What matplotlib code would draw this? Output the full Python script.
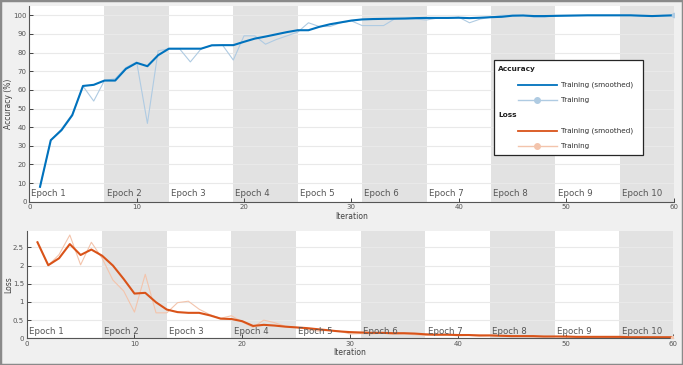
import numpy as np
import matplotlib
matplotlib.use("Agg")
import matplotlib.pyplot as plt
import matplotlib.transforms as mtransforms
from matplotlib.patches import Rectangle
from matplotlib.lines import Line2D
from matplotlib.ticker import FuncFormatter

# training progress
iterations = list(range(1, 61))

acc_smoothed = [
    8, 33, 38.4, 46.4, 62.1, 62.7, 65, 65, 71.3, 74.5,
    72.7, 78.6, 82.1, 82.1, 82.1, 82.1, 83.9, 84, 84, 85.8,
    87.5, 88.6, 89.8, 91, 92, 92, 93.8, 95.2, 96.2, 97.2,
    97.8, 98, 98.1, 98.2, 98.3, 98.5, 98.6, 98.6, 98.6, 98.7,
    98.5, 98.7, 99, 99.2, 99.8, 99.9, 99.6, 99.6, 99.7, 99.8,
    99.9, 100, 100, 100, 100, 100, 99.8, 99.6, 99.8, 100,
]
acc_raw = [
    8, 33, 39, 47, 62, 54, 65, 66, 72, 75,
    42, 81, 82, 82, 75, 82, 84, 84, 76, 89,
    89, 84.5, 87, 89, 91, 96, 94, 94, 96, 97,
    94.5, 94.5, 94.5, 98, 98, 98, 97.5, 98.5, 98.5, 99,
    96, 98, 99, 100, 100, 100, 99, 99, 100, 100,
    100, 100, 100, 100, 100, 100, 99.5, 99.5, 100, 100,
]
loss_smoothed = [
    2.64, 2.01, 2.2, 2.59, 2.29, 2.44, 2.27, 2.0, 1.63, 1.23,
    1.25, 0.99, 0.79, 0.72, 0.70, 0.70, 0.63, 0.54, 0.53, 0.47,
    0.34, 0.37, 0.35, 0.32, 0.30, 0.28, 0.25, 0.22, 0.19, 0.17,
    0.16, 0.15, 0.15, 0.14, 0.14, 0.13, 0.11, 0.10, 0.10, 0.09,
    0.09, 0.08, 0.08, 0.07, 0.06, 0.06, 0.06, 0.05, 0.05, 0.05,
    0.04, 0.04, 0.04, 0.04, 0.04, 0.03, 0.03, 0.03, 0.03, 0.03,
]
loss_raw = [
    2.64, 2.0, 2.3, 2.84, 2.02, 2.64, 2.2, 1.6, 1.3, 0.72,
    1.76, 0.7, 0.7, 0.98, 1.02, 0.8, 0.65, 0.55, 0.62, 0.45,
    0.3, 0.5, 0.43, 0.33, 0.3, 0.25, 0.2, 0.22, 0.2, 0.12,
    0.13, 0.12, 0.14, 0.11, 0.12, 0.1, 0.08, 0.08, 0.09, 0.07,
    0.08, 0.06, 0.07, 0.05, 0.05, 0.05, 0.04, 0.04, 0.05, 0.03,
    0.03, 0.03, 0.04, 0.03, 0.02, 0.02, 0.03, 0.02, 0.02, 0.02,
]

n_epochs = 10
iters_per_epoch = 6
epoch_labels = [f"Epoch {k}" for k in range(1, n_epochs + 1)]

BLUE = "#0072BD"
BLUE_LIGHT = "#AFCBE2"
ORANGE = "#D95319"
ORANGE_LIGHT = "#F3C4AC"
SHADE = "#E2E2E2"
GRID = "#E9E9E9"
TEXT = "#555555"
FIG_BG = "#F0F0F0"


def fmt_g(value, _pos):
    return f"{value:g}"


def style_axes(ax, ylim, yticks):
    ax.set_xlim(0, 60)
    ax.set_ylim(*ylim)
    ax.set_xticks(range(0, 61, 10))
    ax.set_yticks(yticks)
    ax.yaxis.set_major_formatter(FuncFormatter(fmt_g))
    ax.tick_params(direction="in", length=3, width=0.7, colors="#404040",
                   labelsize=5, labelcolor="#555555", pad=2)
    for side in ("top", "right"):
        ax.spines[side].set_visible(False)
    for side in ("left", "bottom"):
        ax.spines[side].set_color("#555555")
        ax.spines[side].set_linewidth(0.8)
    ax.set_axisbelow(True)
    ax.grid(True, axis="y", color=GRID, linewidth=0.8)
    ax.set_xlabel("Iteration", fontsize=5.5, color="#404040", labelpad=1)

    # epoch shading and labels
    trans = mtransforms.blended_transform_factory(ax.transData, ax.transAxes)
    starts = [0] + [1 + iters_per_epoch * k for k in range(1, n_epochs)]
    ends = starts[1:] + [61]
    for k, (s, e) in enumerate(zip(starts, ends)):
        if k % 2 == 1:
            ax.axvspan(s, min(e, 60), color=SHADE, zorder=0, linewidth=0)
        ax.text(s + 0.2, 0.02, epoch_labels[k], transform=trans,
                fontsize=6.2, color=TEXT, ha="left", va="bottom", zorder=3)


fig = plt.figure(figsize=(6.83, 3.65), dpi=100, facecolor=FIG_BG)

ax1 = fig.add_axes([29.3 / 683, (365 - 201.7) / 365, 644.2 / 683, 195.7 / 365])
ax2 = fig.add_axes([26.7 / 683, (365 - 338.3) / 365, 646.6 / 683, 107.3 / 365])

style_axes(ax1, (0, 105), range(0, 101, 10))
style_axes(ax2, (0, 2.95), [0, 0.5, 1, 1.5, 2, 2.5])
ax1.set_ylabel("Accuracy (%)", fontsize=5.5, color="#404040")
ax2.set_ylabel("Loss", fontsize=5.5, color="#404040")
ax1.yaxis.set_label_coords(-0.025, 0.5)
ax2.yaxis.set_label_coords(-0.021, 0.5)

ax1.plot(iterations, acc_raw, color=BLUE_LIGHT, linewidth=0.8, zorder=2)
ax1.plot(iterations, acc_smoothed, color=BLUE, linewidth=1.5, zorder=2.5)
ax1.plot(iterations[-1], acc_raw[-1], "o", color=BLUE_LIGHT, markersize=3, zorder=2.6)

ax2.plot(iterations, loss_raw, color=ORANGE_LIGHT, linewidth=0.8, zorder=2)
ax2.plot(iterations, loss_smoothed, color=ORANGE, linewidth=1.5, zorder=2.5)
ax2.plot(iterations[-1], loss_raw[-1], "o", color=ORANGE_LIGHT, markersize=3, zorder=2.6)

# legend box, built by hand to get the section headers
box = Rectangle((0.722, 0.239), 0.231, 0.485, transform=ax1.transAxes,
                facecolor="white", edgecolor="#262626", linewidth=0.9, zorder=5)
ax1.add_patch(box)
rows = [
    ("Accuracy", None, None, 0.6765),
    ("Training (smoothed)", BLUE, False, 0.598),
    ("Training", BLUE_LIGHT, True, 0.520),
    ("Loss", None, None, 0.443),
    ("Training (smoothed)", ORANGE, False, 0.363),
    ("Training", ORANGE_LIGHT, True, 0.285),
]
for label, color, marker, y in rows:
    if color is None:
        ax1.text(0.7276, y, label, transform=ax1.transAxes, fontsize=5.3,
                 fontweight="bold", color="#202020", va="center", ha="left", zorder=6)
        continue
    ax1.add_line(Line2D([0.7586, 0.8187], [y, y], transform=ax1.transAxes,
                        color=color, linewidth=1.3 if not marker else 1.0, zorder=6))
    if marker:
        ax1.add_line(Line2D([0.7886], [y], transform=ax1.transAxes, color=color,
                            marker="o", markersize=4, linestyle="none", zorder=6))
    ax1.text(0.8254, y, label, transform=ax1.transAxes, fontsize=5.2,
             color="#303030", va="center", ha="left", zorder=6)

# outer frame
fig.add_artist(Rectangle((0, 0), 1, 1, transform=fig.transFigure, fill=False,
                         edgecolor="#8A8A8A", linewidth=2.5))

fig.savefig("out.png", dpi=100, facecolor=FIG_BG)
